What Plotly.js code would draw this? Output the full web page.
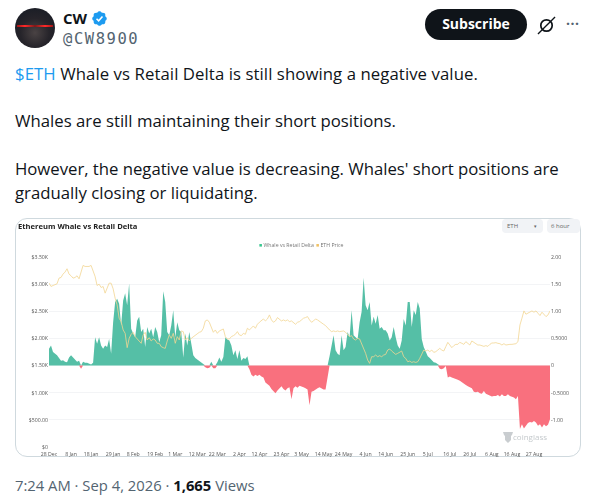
<!DOCTYPE html>
<html><head><meta charset="utf-8">
<script src="https://cdn.plot.ly/plotly-3.0.1.min.js"></script>
<style>
html,body{margin:0;padding:0;background:#fff;width:595px;height:499px;overflow:hidden;font-family:"Open Sans","Noto Sans",sans-serif;}
.abs{position:absolute;white-space:nowrap;}
#avatar{left:15px;top:8px;width:40px;height:40px;border-radius:50%;background:radial-gradient(circle at 50% 62%,#4a4344 0,#26242a 45%,#141a24 100%);overflow:hidden;}
#avatar .beam{position:absolute;left:2px;right:2px;top:17px;height:2px;background:linear-gradient(90deg,#a01515,#ff2a2a 22%,#7a1a1a 50%,#ff2a2a 78%,#a01515);filter:blur(.5px);}
.tweet{left:15px;font-size:16.75px;color:#0f1419;}
#frame{left:15px;top:218px;width:566px;height:239px;border:1px solid #cfd9de;border-radius:12px;box-sizing:border-box;overflow:hidden;background:#fff;}
#chart{position:absolute;left:15px;top:218px;width:566px;height:239px;filter:blur(.3px);}
.sel{background:#f1f3f6;border-radius:4px;height:14px;top:219px;font-size:6px;color:#666;line-height:14px;}
</style></head><body>
<div class="abs" id="avatar"><div class="beam"></div></div>
<div class="abs" style="left:63px;top:8px;font-weight:700;font-size:15px;color:#0f1419;">CW</div>
<svg class="abs" style="left:91px;top:10px" width="17" height="17" viewBox="0 0 24 24"><path fill="#1d9bf0" d="M22.25 12c0-1.43-.88-2.67-2.19-3.34.46-1.39.2-2.9-.81-3.91s-2.52-1.27-3.91-.81C14.67 2.63 13.43 1.75 12 1.75s-2.67.88-3.34 2.19c-1.39-.46-2.9-.2-3.91.81s-1.27 2.52-.81 3.91C2.63 9.33 1.75 10.57 1.75 12s.88 2.67 2.19 3.34c-.46 1.39-.2 2.9.81 3.91s2.52 1.27 3.91.81c.67 1.31 1.91 2.19 3.34 2.19s2.67-.88 3.34-2.19c1.39.46 2.9.2 3.91-.81s1.27-2.52.81-3.91c1.31-.67 2.19-1.91 2.19-3.34z"/><path fill="none" stroke="#fff" stroke-width="2.2" d="M7.8 12.3l3 3 5.4-6"/></svg>
<div class="abs" style="left:63px;top:30px;font-family:'DejaVu Sans Mono',monospace;font-size:15.5px;letter-spacing:1.55px;color:#536471;">@CW8900</div>
<div class="abs" style="left:425px;top:9px;width:102px;height:31px;border-radius:16px;background:#0f1419;color:#fff;font-weight:700;font-size:14px;line-height:30px;text-align:center;">Subscribe</div>
<svg class="abs" style="left:537px;top:16px" width="19" height="19" viewBox="0 0 20 20"><circle cx="10" cy="10" r="6" fill="none" stroke="#0f1419" stroke-width="1.8"/><path d="M1 19L19 1" stroke="#0f1419" stroke-width="1.4"/></svg>
<div class="abs" style="left:566px;top:19px;color:#536471;font-size:14px;line-height:10px;letter-spacing:.5px;font-weight:700;">···</div>

<div class="abs tweet" style="top:62px;letter-spacing:.07px;"><span style="color:#1d9bf0">$ETH</span> Whale vs Retail Delta is still showing a negative value.</div>
<div class="abs tweet" style="top:109px;">Whales are still maintaining their short positions.</div>
<div class="abs tweet" style="top:157px;letter-spacing:-.03px;">However, the negative value is decreasing. Whales' short positions are</div>
<div class="abs tweet" style="top:181px;">gradually closing or liquidating.</div>

<div class="abs" id="frame"></div>
<div id="chart"></div>
<div class="abs sel" style="left:502px;width:41px;"><span style="margin-left:5px">ETH</span><span style="position:absolute;right:6px;font-size:5px">▾</span></div>
<div class="abs sel" style="left:547px;width:33px;"><span style="margin-left:4px">6 hour</span></div>
<svg class="abs" style="left:503px;top:431px" width="10" height="12" viewBox="0 0 10 12"><path d="M0 1h10l-1 3-1 1v4l-3 3-3-3V5L1 4z" fill="#c9cdd0"/></svg>
<div class="abs" style="left:15px;top:475px;font-size:14.8px;color:#536471;">7:24 AM · Sep 4, 2026 · <b style="color:#0f1419">1,665</b> Views</div>

<script>
const startDate = '2024-12-28';
const tickDates = ['2024-12-28','2025-01-08','2025-01-18','2025-01-29','2025-02-08','2025-02-19','2025-03-01','2025-03-12','2025-03-22','2025-04-02','2025-04-12','2025-04-23','2025-05-03','2025-05-14','2025-05-24','2025-06-04','2025-06-14','2025-06-25','2025-07-05','2025-07-16','2025-07-26','2025-08-06','2025-08-16','2025-08-27'];
const tickLabels = ['28 Dec','8 Jan','18 Jan','29 Jan','8 Feb','19 Feb','1 Mar','12 Mar','22 Mar','2 Apr','12 Apr','23 Apr','3 May','14 May','24 May','4 Jun','14 Jun','25 Jun','5 Jul','16 Jul','26 Jul','6 Aug','16 Aug','27 Aug'];
const deltaValues = [.31,.37,.25,.22,.19,.14,.09,.10,.07,.06,.15,.19,.15,.11,.07,.09,-.06,.07,.05,.05,.03,.02,.05,.52,.40,.52,.37,.31,.37,.34,.49,.22,.80,1.17,1.23,1.14,.74,1.20,1.33,1.11,1.51,.68,.59,.52,.83,.90,.62,.68,.34,.71,.59,.68,.52,.71,.62,.43,.56,1.37,1.17,.62,.56,.74,1.02,.52,.80,.65,.62,.15,.59,.37,.62,.37,.19,.14,.11,.09,.06,.03,-.03,-.05,-.04,.07,-.05,-.05,.06,.15,.07,.16,.52,.48,.46,.37,.19,.28,.12,.28,.09,.14,.12,.17,-.07,-.17,-.20,-.17,-.19,-.17,-.20,-.22,-.31,-.34,-.37,-.43,-.48,-.51,-.46,-.42,-.38,-.43,-.46,-.42,-.40,-.62,-.42,-.38,-.41,-.37,-.38,-.40,-.42,-.44,-.73,-.48,-.47,-.44,-.42,-.40,-.42,-.44,-.44,-.22,.17,.34,.56,.28,.22,.19,.56,.28,.34,.62,.52,1.02,.56,.52,.49,.80,.99,1.62,1.11,1.02,1.17,.74,.90,.77,.93,.68,.71,.65,.65,.59,.46,.52,.71,.52,.37,.31,.46,.86,.74,1.17,1.17,.71,1.02,.93,1.17,1.05,.49,.34,.25,.17,.14,.09,.06,.05,.02,-.06,-.07,-.05,-.01,-.22,-.20,-.22,-.23,-.25,-.26,-.28,-.31,-.34,-.36,-.38,-.40,-.42,-.48,-.49,-.48,-.51,-.52,-.47,-.52,-.54,-.56,-.57,-.56,-.56,-.54,-.57,-.53,-.56,-.56,-.53,-.56,-.57,-.59,-.62,-.56,-1.17,-1.08,-1.16,-1.10,-1.06,-1.04,-1.05,-1.02,-1.05,-1.11,-1.08,-1.14,-1.08,-1.12,-1.09,-.99];
const priceValues = [3020,2957,2975,2988,3006,3111,3123,3185,3222,3283,3185,3154,3111,3123,3154,3098,3234,3345,3326,3326,3326,3345,3234,3142,2975,3000,2938,2957,2834,2914,3018,3018,2914,2741,2618,2372,2310,2156,2094,1830,2002,2076,2113,2033,1990,1953,1910,2064,2113,1971,2014,1953,1990,1971,1910,1910,1848,1830,1817,1953,2064,2002,2094,1910,2033,1971,2138,2125,1971,2014,1953,2002,2033,2051,2094,2113,2125,2187,2322,2341,2298,2187,2113,2156,2094,2138,2156,2174,2033,1990,1990,2033,2051,2076,2125,2064,2051,2094,2076,2187,2156,2199,2230,2187,2261,2298,2322,2359,2322,2359,2433,2341,2298,2322,2384,2359,2322,2341,2322,2341,2310,2322,2298,2261,2298,2310,2341,2372,2384,2402,2341,2298,2322,2359,2341,2310,2279,2261,2236,2187,2156,2125,2138,2125,2138,2125,2125,2138,2113,2076,2033,2051,1990,1971,2002,1990,1910,1817,1725,1602,1540,1663,1663,1694,1663,1682,1663,1694,1706,1786,1805,1768,1743,1706,1725,1743,1768,1663,1632,1571,1583,1558,1571,1558,1571,1632,1725,1786,1768,1786,1756,1786,1743,1756,1786,1817,1786,1768,1848,1928,1879,1830,1867,1891,1891,1928,1910,1891,1940,1910,1879,1953,1928,1910,1879,1879,1867,1854,1867,1854,1891,1916,1916,1922,1910,1903,1879,1903,1879,1891,1891,1891,1891,1903,1940,2248,2372,2507,2446,2464,2495,2507,2483,2507,2464,2421,2483,2446,2402,2433,2507];
const leftTicks = [0,500,1000,1500,2000,2500,3000,3500];
const leftLabels = ['$0','$500.00','$1.00K','$1.50K','$2.00K','$2.50K','$3.00K','$3.50K'];
const rightTicks = [-1,-0.5,0,0.5,1,1.5,2];
const rightLabels = ['-1.00','-0.5000','0','0.5000','1.00','1.50','2.00'];
const seriesNames = ['Whale vs Retail Delta','ETH Price'];
const upColor = '#55bfa6', downColor = '#f9707e', lineColor = '#f3d592', legendGreen = '#37c78f', legendOrange = '#f0c163';

const dayMs = 86400000, t0 = Date.parse(startDate + 'T00:00:00Z');
const dates = deltaValues.map((_, i) => new Date(t0 + i * dayMs).toISOString().slice(0, 10));
const positivePart = deltaValues.map(v => v > 0 ? v : 0);
const negativePart = deltaValues.map(v => v < 0 ? v : 0);

const tickFont = {family:'Open Sans, sans-serif', size:5.2, color:'#555'};
Plotly.newPlot('chart', [
  {type:'scatter', mode:'lines', x:dates, y:positivePart, name:seriesNames[0], yaxis:'y', fill:'tozeroy',
   fillcolor:upColor, line:{width:0, color:upColor}},
  {type:'scatter', mode:'lines', x:dates, y:negativePart, name:seriesNames[0], yaxis:'y', fill:'tozeroy',
   fillcolor:downColor, line:{width:0, color:downColor}},
  {type:'scatter', mode:'lines', x:dates, y:priceValues, name:seriesNames[1], yaxis:'y2',
   line:{color:lineColor, width:0.8}}
], {
  width:566, height:239, margin:{l:34, r:31, t:39, b:10},
  paper_bgcolor:'rgba(0,0,0,0)', plot_bgcolor:'rgba(0,0,0,0)',
  showlegend:false,
  title:{text:'Ethereum Whale vs Retail Delta', x:3/566, xref:'container', xanchor:'left', y:1-8/239, yref:'container', yanchor:'middle',
         font:{family:'Open Sans, sans-serif', size:7.6, color:'#222', weight:700}},
  xaxis:{type:'date', range:[dates[0], dates[dates.length-1]], tickmode:'array', tickvals:tickDates, ticktext:tickLabels,
         tickfont:tickFont, ticks:'', showgrid:false, zeroline:false, showline:false, tickangle:0, ticklen:0, automargin:false, ticklabelstandoff:3},
  yaxis:{side:'right', range:[-1.5,2], tickmode:'array', tickvals:rightTicks, ticktext:rightLabels, tickfont:tickFont,
         showgrid:true, gridcolor:'#f3f4f6', gridwidth:1, zeroline:false, ticks:'', showline:false, automargin:false},
  yaxis2:{side:'left', overlaying:'y', range:[0,3500], tickmode:'array', tickvals:leftTicks, ticktext:leftLabels, tickfont:tickFont,
          showgrid:false, zeroline:false, ticks:'', showline:false, automargin:false},
  annotations:[
    {text:'<span style="color:'+legendGreen+'">■</span> '+seriesNames[0], xref:'paper', yref:'paper', x:(257-49)/501, y:1+12/190, xanchor:'left', yanchor:'middle', showarrow:false,
     font:{family:'Open Sans, sans-serif', size:5.2, color:'#777'}},
    {text:'<span style="color:'+legendOrange+'">■</span> '+seriesNames[1], xref:'paper', yref:'paper', x:(314-49)/501, y:1+12/190, xanchor:'left', yanchor:'middle', showarrow:false,
     font:{family:'Open Sans, sans-serif', size:5.2, color:'#777'}},
    {text:'coinglass', xref:'paper', yref:'paper', x:0.96, y:0.053, xanchor:'center', yanchor:'middle', showarrow:false,
     font:{family:'Open Sans, sans-serif', size:8, color:'#c4c9cc'}}]
}, {displayModeBar:false, staticPlot:true});
</script>
</body></html>
